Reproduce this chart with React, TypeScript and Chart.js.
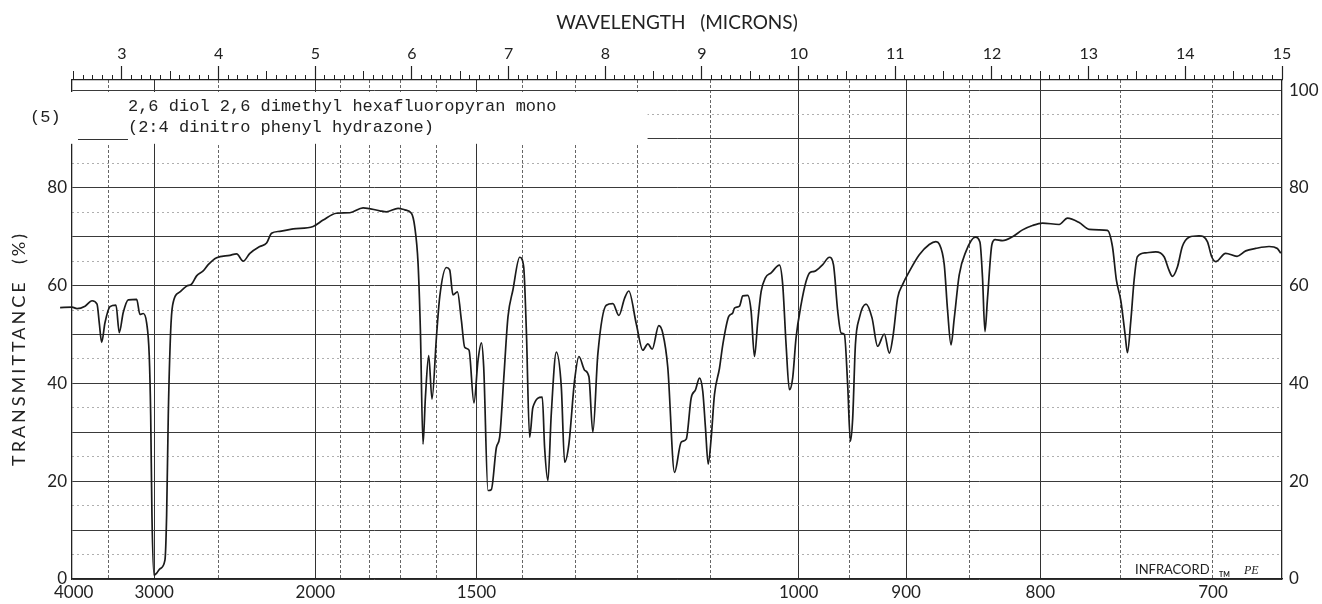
import React, { useEffect, useRef } from 'react';
import { Chart, registerables } from 'chart.js';

Chart.register(...registerables);

// ---- data (wavelength in microns, transmittance in %) ----
const WAVELENGTH_UM = [
  2.360, 2.483, 2.535, 2.618, 2.690, 2.742, 2.765, 2.790, 2.824, 2.876, 2.938, 2.972, 3.013, 3.065, 3.152,
  3.186, 3.220, 3.255, 3.282, 3.297, 3.310, 3.331, 3.359, 3.393, 3.444, 3.462, 3.479, 3.503, 3.524, 3.599,
  3.669, 3.720, 3.772, 3.840, 3.892, 3.979, 4.116, 4.186, 4.254, 4.323, 4.426, 4.496, 4.547, 4.633, 4.771,
  4.977, 5.081, 5.219, 5.357, 5.494, 5.667, 5.736, 5.856, 5.925, 5.994, 6.028, 6.063, 6.087, 6.114, 6.139,
  6.173, 6.207, 6.253, 6.287, 6.356, 6.390, 6.424, 6.470, 6.511, 6.545, 6.590, 6.641, 6.683, 6.718, 6.742,
  6.786, 6.821, 6.873, 6.907, 6.948, 6.993, 7.044, 7.114, 7.155, 7.183, 7.217, 7.251, 7.348, 7.372, 7.406,
  7.441, 7.493, 7.545, 7.579, 7.623, 7.682, 7.727, 7.786, 7.830, 7.871, 7.923, 8.010, 8.078, 8.140, 8.199,
  8.243, 8.320, 8.388, 8.440, 8.485, 8.553, 8.595, 8.646, 8.716, 8.785, 8.837, 8.888, 8.933, 8.974, 9.008,
  9.036, 9.064, 9.095, 9.129, 9.181, 9.215, 9.277, 9.318, 9.336, 9.388, 9.422, 9.473, 9.508, 9.543, 9.577,
  9.612, 9.656, 9.715, 9.801, 9.835, 9.870, 9.904, 9.938, 9.973, 10.025, 10.077, 10.118, 10.163, 10.249, 10.318,
  10.360, 10.404, 10.439, 10.473, 10.507, 10.535, 10.559, 10.587, 10.628, 10.697, 10.759, 10.817, 10.886, 10.938, 10.979,
  11.024, 11.075, 11.145, 11.248, 11.351, 11.420, 11.455, 11.506, 11.541, 11.576, 11.610, 11.661, 11.731, 11.827, 11.875,
  11.902, 11.927, 11.954, 11.999, 12.033, 12.109, 12.212, 12.316, 12.419, 12.522, 12.695, 12.781, 12.902, 13.005, 13.109,
  13.194, 13.246, 13.287, 13.333, 13.377, 13.401, 13.436, 13.470, 13.504, 13.591, 13.694, 13.780, 13.832, 13.866, 13.918,
  13.969, 14.039, 14.142, 14.228, 14.273, 14.314, 14.417, 14.535, 14.625, 14.728, 14.866, 14.952, 14.987,
];

const TRANSMITTANCE = [
  55.5, 55.6, 55.3, 55.8, 56.9, 56.2, 52.4, 48.4, 52.4, 55.7, 56.0, 50.4, 54.5, 57.1, 57.2,
  54.1, 54.3, 52.4, 45.7, 33.5, 13.1, 0.8, 1.2, 2.1, 3.8, 13.1, 33.5, 50.4, 56.0, 58.7,
  59.9, 60.3, 62.0, 63.0, 64.3, 65.7, 66.2, 66.5, 65.0, 66.6, 68.0, 68.7, 70.7, 71.1, 71.6,
  72.1, 73.4, 74.8, 74.9, 75.9, 75.3, 75.1, 75.8, 75.5, 74.8, 72.1, 64.5, 50.9, 27.6, 37.2,
  45.7, 36.8, 49.5, 57.7, 63.7, 63.2, 58.1, 58.7, 52.9, 47.4, 46.8, 36.0, 44.7, 48.3, 43.3,
  18.1, 18.3, 26.9, 29.0, 40.6, 53.6, 59.1, 65.8, 63.9, 50.9, 29.0, 35.1, 37.2, 26.9, 20.1,
  33.8, 46.4, 39.2, 23.9, 27.6, 40.6, 45.5, 42.7, 41.4, 30.0, 46.1, 56.0, 56.3, 53.9, 57.4,
  58.9, 52.2, 46.8, 48.1, 47.0, 51.8, 50.2, 43.3, 21.8, 28.0, 28.6, 37.0, 38.7, 41.1, 38.4,
  30.9, 23.5, 28.8, 37.7, 43.1, 47.9, 53.7, 54.4, 55.4, 55.8, 57.9, 58.0, 54.8, 45.5, 52.7,
  58.8, 61.6, 62.6, 64.2, 60.2, 47.9, 38.7, 41.1, 49.3, 56.1, 60.9, 62.7, 62.9, 64.3, 65.8,
  64.3, 54.8, 50.3, 50.0, 39.7, 28.2, 32.9, 47.9, 53.4, 56.2, 53.4, 47.6, 50.1, 46.2, 50.1,
  57.5, 60.2, 62.9, 66.3, 68.4, 69.0, 68.5, 64.3, 54.8, 47.9, 53.4, 62.2, 67.0, 69.9, 68.9,
  61.6, 50.6, 57.5, 68.4, 69.4, 69.2, 70.0, 71.4, 72.3, 72.8, 72.5, 73.8, 72.9, 71.5, 71.4,
  71.3, 68.0, 61.1, 56.9, 50.0, 46.3, 52.8, 61.1, 65.9, 66.7, 66.9, 65.9, 63.1, 61.9, 63.8,
  68.0, 69.9, 70.2, 69.0, 65.9, 64.9, 66.6, 66.0, 67.1, 67.6, 68.0, 67.6, 66.6,
];

// ---- axes ----
const X_MIN_UM = 2.483;
const X_MAX_UM = 15.0;
const Y_MIN = 0;
const Y_MAX = 102.05;

const MICRON_TICKS = [3, 4, 5, 6, 7, 8, 9, 10, 11, 12, 13, 14, 15];
const MICRON_HALF_TICKS = [2.5, 3.5, 4.5, 5.5, 6.5, 7.5, 8.5, 9.5, 10.5, 11.5, 12.5, 13.5, 14.5];
const MICRON_TENTH_TICKS: number[] = [];
for (let i = 25; i <= 150; i++) {
  if (i % 5 !== 0) MICRON_TENTH_TICKS.push(i / 10);
}

const WAVENUMBER_LABELS = [4000, 3000, 2000, 1500, 1000, 900, 800, 700];
const WAVENUMBER_MAJOR_GRID = [3000, 2000, 1500, 1000, 900, 800];
const WAVENUMBER_MINOR_GRID = [3500, 2500, 1900, 1800, 1700, 1600, 1400, 1300, 1200, 1100, 950, 850, 750, 700];

const Y_MAJOR_GRID = [0, 10, 20, 30, 40, 50, 60, 70, 80, 90, 100];
const Y_MINOR_GRID = [5, 15, 25, 35, 45, 55, 65, 75, 85, 95];
const LEFT_Y_LABELS = [0, 20, 40, 60, 80];
const RIGHT_Y_LABELS = [0, 20, 40, 60, 80, 100];

const TITLE_X = 'WAVELENGTH   (MICRONS)';
const TITLE_Y = 'TRANSMITTANCE  (%)';
const SAMPLE_LINE_1 = '2,6 diol 2,6 dimethyl hexafluoropyran mono';
const SAMPLE_LINE_2 = '(2:4 dinitro phenyl hydrazone)';
const SAMPLE_NUMBER = '(5)';
const LABEL_EDGE_UM = 8.437; // right end of the sample-label panel

const INK = '#222222';
const SANS = 'Lato, "DejaVu Sans", sans-serif';
const MONO = '"Liberation Mono", "DejaVu Sans Mono", monospace';

const umFromWavenumber = (w: number) => 1e4 / w;

const setTicks = (values: number[]) => (scale: any) => {
  scale.ticks = values.map((v) => ({ value: v }));
};
const fixHeight = (h: number) => (scale: any) => {
  scale.height = h;
};
const fixWidth = (w: number) => (scale: any) => {
  scale.width = w;
};

const paperPlugin = {
  id: 'paperExtras',
  beforeDatasetsDraw(chart: any) {
    const { ctx, chartArea, scales } = chart;
    const xs = scales.x;
    const ys = scales.y;
    const left = chartArea.left - 2;
    const right = xs.getPixelForValue(LABEL_EDGE_UM);
    const top = ys.getPixelForValue(99.6);
    const bottom = ys.getPixelForValue(89.0);
    ctx.save();
    ctx.fillStyle = '#ffffff';
    ctx.fillRect(left, top, right - left, bottom - top);
    ctx.strokeStyle = '#333333';
    ctx.lineWidth = 1;
    const y90 = Math.round(ys.getPixelForValue(90)) + 0.5;
    ctx.beginPath();
    ctx.moveTo(xs.getPixelForValue(2.545), y90);
    ctx.lineTo(xs.getPixelForValue(3.062), y90);
    ctx.stroke();
    ctx.restore();
  },
  afterDraw(chart: any) {
    const { ctx, chartArea, scales } = chart;
    const xs = scales.x;
    const ys = scales.y;
    ctx.save();
    ctx.fillStyle = INK;
    // sample description (typewritten)
    ctx.font = `17px ${MONO}`;
    ctx.textAlign = 'left';
    ctx.textBaseline = 'middle';
    const textX = xs.getPixelForValue(3.062);
    ctx.fillText(SAMPLE_LINE_1, textX, ys.getPixelForValue(96.7));
    ctx.fillText(SAMPLE_LINE_2, textX, ys.getPixelForValue(92.4));
    ctx.font = `17px ${MONO}`;
    ctx.fillText(SAMPLE_NUMBER, 30, ys.getPixelForValue(94.4));

    // y axis title
    ctx.save();
    ctx.translate(19, (chartArea.top + chartArea.bottom) / 2 + 19);
    ctx.rotate(-Math.PI / 2);
    ctx.font = `18px ${SANS}`;
    (ctx as any).letterSpacing = '3px';
    ctx.textAlign = 'center';
    ctx.textBaseline = 'middle';
    ctx.fillText(TITLE_Y, 0, 0);
    ctx.restore();

    // instrument mark
    const baseY = chartArea.bottom - 5;
    ctx.textBaseline = 'alphabetic';
    ctx.textAlign = 'left';
    ctx.font = `13px ${SANS}`;
    ctx.fillText('INFRACORD', 1135, baseY);
    ctx.font = `bold 7px ${SANS}`;
    ctx.fillText('TM', 1219, baseY + 3);
    ctx.font = 'italic 12px "Liberation Serif", serif';
    ctx.fillText('PE', 1244, baseY);
    ctx.restore();
  },
};

export default function App() {
  const canvasRef = useRef<HTMLCanvasElement>(null);

  useEffect(() => {
    document.body.style.margin = '0';
    const canvas = canvasRef.current;
    if (!canvas) return;

    const points = WAVELENGTH_UM.map((x, i) => ({ x, y: TRANSMITTANCE[i] }));

    const chart = new Chart(canvas, {
      type: 'line',
      data: {
        datasets: [
          {
            label: 'Transmittance',
            data: points,
            borderColor: '#1b1b1b',
            borderWidth: 1.7,
            pointRadius: 0,
            cubicInterpolationMode: 'monotone',
            clip: false,
            xAxisID: 'x',
            yAxisID: 'y',
          } as any,
        ],
      },
      options: {
        responsive: false,
        animation: false,
        events: [],
        layout: { padding: 0 },
        plugins: { legend: { display: false }, tooltip: { enabled: false } },
        scales: {
          x: {
            type: 'linear',
            axis: 'x',
            position: 'bottom',
            min: X_MIN_UM,
            max: X_MAX_UM,
            weight: 10,
            afterFit: fixHeight(25),
            afterBuildTicks: setTicks(WAVENUMBER_LABELS.map(umFromWavenumber)),
            ticks: {
              autoSkip: false,
              maxRotation: 0,
              padding: 3,
              color: INK,
              font: { family: SANS, size: 17 },
              callback: (v: any) => String(Math.round(1e4 / Number(v))),
            },
            grid: { display: false, drawTicks: false },
            border: { display: true, color: INK, width: 1.3 },
          },
          xMajor: {
            type: 'linear',
            axis: 'x',
            position: 'bottom',
            min: X_MIN_UM,
            max: X_MAX_UM,
            weight: 0,
            afterFit: fixHeight(0),
            afterBuildTicks: setTicks(WAVENUMBER_MAJOR_GRID.map(umFromWavenumber)),
            ticks: { display: false },
            grid: { drawTicks: false, color: '#333333', lineWidth: 1 },
            border: { display: false },
          },
          xMinor: {
            type: 'linear',
            axis: 'x',
            position: 'bottom',
            min: X_MIN_UM,
            max: X_MAX_UM,
            weight: 1,
            afterFit: fixHeight(0),
            afterBuildTicks: setTicks(WAVENUMBER_MINOR_GRID.map(umFromWavenumber)),
            ticks: { display: false },
            grid: { drawTicks: false, color: '#555555', lineWidth: 0.9 },
            border: { display: false, dash: [3, 2] },
          },
          xTop: {
            type: 'linear',
            axis: 'x',
            position: 'top',
            min: X_MIN_UM,
            max: X_MAX_UM,
            weight: 10,
            afterFit: fixHeight(80),
            afterBuildTicks: setTicks(MICRON_TICKS),
            ticks: {
              autoSkip: false,
              maxRotation: 0,
              padding: 3,
              color: INK,
              font: { family: SANS, size: 16 },
              callback: (v: any) => String(v),
            },
            grid: { drawOnChartArea: false, drawTicks: true, tickLength: 14, tickColor: INK, tickWidth: 1.2 },
            border: { display: true, color: INK, width: 1.2 },
            title: {
              display: true,
              text: TITLE_X,
              color: INK,
              font: { family: SANS, size: 19 },
              padding: { top: 11, bottom: 0 },
            },
          },
          xTopHalf: {
            type: 'linear',
            axis: 'x',
            position: 'top',
            min: X_MIN_UM,
            max: X_MAX_UM,
            weight: 1,
            afterFit: fixHeight(0),
            afterBuildTicks: setTicks(MICRON_HALF_TICKS),
            ticks: { display: false },
            grid: { drawOnChartArea: false, drawTicks: true, tickLength: 9, tickColor: INK, tickWidth: 1 },
            border: { display: false },
          },
          xTopTenth: {
            type: 'linear',
            axis: 'x',
            position: 'top',
            min: X_MIN_UM,
            max: X_MAX_UM,
            weight: 0,
            afterFit: fixHeight(0),
            afterBuildTicks: setTicks(MICRON_TENTH_TICKS),
            ticks: { display: false },
            grid: { drawOnChartArea: false, drawTicks: true, tickLength: 5, tickColor: INK, tickWidth: 1 },
            border: { display: false },
          },
          y: {
            type: 'linear',
            axis: 'y',
            position: 'left',
            min: Y_MIN,
            max: Y_MAX,
            weight: 10,
            afterFit: fixWidth(72),
            afterBuildTicks: setTicks(Y_MAJOR_GRID),
            ticks: {
              autoSkip: false,
              padding: 5,
              color: INK,
              font: { family: SANS, size: 17 },
              callback: (v: any) => (LEFT_Y_LABELS.includes(Number(v)) ? String(v) : ''),
            },
            grid: { drawTicks: false, color: '#3a3a3a', lineWidth: 1 },
            border: { display: true, color: INK, width: 1.3 },
          },
          yMinor: {
            type: 'linear',
            axis: 'y',
            position: 'left',
            min: Y_MIN,
            max: Y_MAX,
            weight: 0,
            afterFit: fixWidth(0),
            afterBuildTicks: setTicks(Y_MINOR_GRID),
            ticks: { display: false },
            grid: { drawTicks: false, color: '#9a9a9a', lineWidth: 0.8 },
            border: { display: false, dash: [2, 3] },
          },
          yRight: {
            type: 'linear',
            axis: 'y',
            position: 'right',
            min: Y_MIN,
            max: Y_MAX,
            afterFit: fixWidth(40),
            afterBuildTicks: setTicks(RIGHT_Y_LABELS),
            ticks: {
              autoSkip: false,
              padding: 7,
              color: INK,
              font: { family: SANS, size: 17 },
              callback: (v: any) => String(v),
            },
            grid: { drawOnChartArea: false, drawTicks: false },
            border: { display: true, color: INK, width: 1.3 },
          },
        } as any,
      },
      plugins: [paperPlugin],
    });

    return () => chart.destroy();
  }, []);

  return (
    <div style={{ width: 1322, height: 604, background: '#ffffff' }}>
      <canvas ref={canvasRef} width={1322} height={604} style={{ display: 'block', width: 1322, height: 604 }} />
    </div>
  );
}
